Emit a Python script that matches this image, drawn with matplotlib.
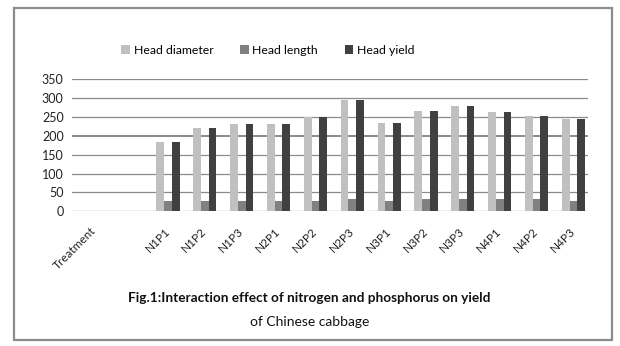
import matplotlib
matplotlib.use("Agg")
import matplotlib.pyplot as plt
from matplotlib.patches import Rectangle
import numpy as np

plt.rcParams['font.family'] = ['Lato', 'DejaVu Sans']

categories = ["Treatment", "", "N1P1", "N1P2", "N1P3", "N2P1", "N2P2", "N2P3",
              "N3P1", "N3P2", "N3P3", "N4P1", "N4P2", "N4P3"]
treatments = categories[2:]
head_diameter = [185, 221, 232, 232, 250, 296, 235, 267, 280, 262, 253, 245]
head_length = [26, 26, 28, 26, 28, 33, 27, 32, 33, 32, 32, 27]
head_yield = [185, 221, 232, 232, 250, 296, 235, 267, 280, 262, 253, 245]
series_names = ["Head diameter", "Head length", "Head yield"]
colors = ["#c0c0c0", "#808080", "#404040"]
yticks = [0, 50, 100, 150, 200, 250, 300, 350]

fig = plt.figure(figsize=(6.2, 3.46), dpi=100)
ax = fig.add_axes([72/620, 1-211.3/346, 516/620, 132/346])

x_all = np.arange(len(categories))
x = x_all[2:]
w = 0.21
series = [head_diameter, head_length, head_yield]
handles = []
for k, (vals, c, name) in enumerate(zip(series, colors, series_names)):
    off = (k + 1 - 1.5) * w
    h = ax.bar(x + off, vals, width=w, color=c, label=name, zorder=3, linewidth=0)
    handles.append(h)

ax.set_xlim(-0.5, len(categories) - 0.5)
ax.set_ylim(0, 350)
ax.set_yticks(yticks)
ax.set_yticklabels([str(v) for v in yticks], fontsize=9, color="#222222")
for v in yticks:
    ax.axhline(v, color="#8a8a8a", lw=1.4 if v == 200 else 0.9, zorder=1)
ax.set_xticks(x_all)
ax.set_xticklabels(categories, rotation=45, ha="right", rotation_mode="anchor",
                   fontsize=8.5, color="#222222")
ax.tick_params(axis='both', length=0, pad=6)
ax.tick_params(axis='x', pad=10)
for s in ax.spines.values():
    s.set_visible(False)

fig.legend(handles=handles, labels=series_names, loc="center",
           bbox_to_anchor=(268/620, 1-50/346), ncol=3, frameon=False,
           fontsize=8.8, handlelength=0.7, handleheight=0.7, handletextpad=0.3,
           columnspacing=2.2)

fig.text(309/620, 1-298/346,
         "Fig.1:Interaction effect of nitrogen and phosphorus on yield",
         ha="center", va="center", fontsize=9.8, fontweight="bold", color="#111111")
fig.text(310/620, 1-322/346, "of Chinese cabbage",
         ha="center", va="center", fontsize=10, color="#111111")

fig.patches.append(Rectangle((14/620, 1-340/346), 598/620, 332/346,
                             transform=fig.transFigure, fill=False,
                             edgecolor="#8c8c8c", lw=1.6))

fig.savefig("out.png", dpi=100)
